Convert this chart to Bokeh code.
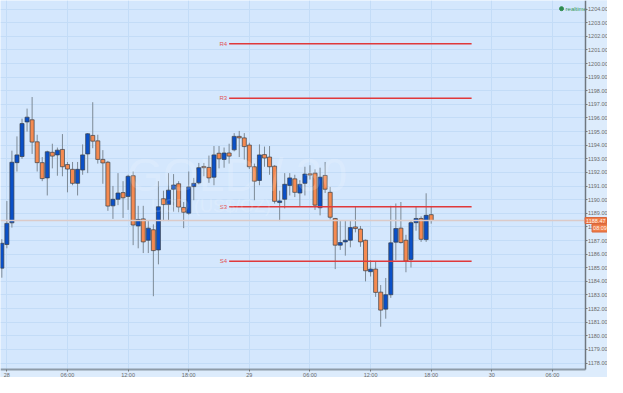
from bokeh.plotting import figure
from bokeh.models import (Range1d, FixedTicker, ColumnDataSource, Label, Span,
                          NumeralTickFormatter, BoxAnnotation)
from bokeh.embed import file_html
from bokeh.resources import INLINE
from bokeh.core.properties import value

# ---- data (30-minute candles, hours counted from the 28th 00:00) ----
opens = [1184.97, 1186.71, 1188.30, 1192.72, 1193.17, 1195.71, 1195.87, 1194.25, 1192.72, 1191.60,
         1193.48, 1193.29, 1193.69, 1192.58, 1192.23, 1191.20, 1192.18, 1193.36, 1194.72, 1194.32,
         1192.96, 1192.75, 1189.55, 1190.03, 1190.52, 1190.24, 1191.76, 1188.07, 1188.59, 1187.02,
         1187.79, 1186.31, 1190.07, 1189.64, 1190.77, 1191.17, 1189.43, 1189.01, 1190.96, 1191.24,
         1192.44, 1192.37, 1191.65, 1193.41, 1192.96, 1193.43, 1193.66, 1194.65, 1194.54, 1194.01,
         1192.42, 1191.41, 1193.31, 1193.13, 1192.46, 1189.79, 1190.03, 1191.05, 1191.53, 1190.49,
         1191.20, 1191.90, 1191.95, 1189.41, 1191.78, 1190.54, 1188.62, 1186.66, 1186.90, 1187.02,
         1188.00, 1187.84, 1187.02, 1184.71, 1184.90, 1183.21, 1181.96, 1183.02, 1186.88, 1187.91,
         1187.02, 1185.61, 1188.31, 1188.62, 1187.07, 1188.90]
highs = [1187.10, 1189.90, 1193.60, 1194.65, 1195.95, 1196.69, 1197.54, 1194.77, 1193.13, 1193.60,
         1194.11, 1193.83, 1194.82, 1192.77, 1192.77, 1192.77, 1194.06, 1194.89, 1197.16, 1194.77,
         1193.64, 1192.85, 1191.01, 1191.95, 1191.36, 1191.83, 1192.07, 1189.55, 1189.55, 1188.43,
         1188.19, 1191.36, 1190.66, 1191.95, 1191.88, 1191.36, 1189.83, 1192.07, 1191.60, 1192.70,
         1192.70, 1193.24, 1193.94, 1193.94, 1193.83, 1194.11, 1194.89, 1195.05, 1194.89, 1194.18,
         1192.65, 1194.06, 1193.90, 1193.94, 1192.53, 1190.66, 1191.95, 1191.95, 1191.83, 1191.43,
         1192.42, 1192.53, 1192.23, 1192.35, 1192.77, 1190.94, 1188.66, 1188.43, 1188.43, 1188.43,
         1189.53, 1188.07, 1187.07, 1185.54, 1185.49, 1183.73, 1184.25, 1189.55, 1189.72, 1189.83,
         1187.42, 1188.43, 1189.48, 1188.78, 1190.47, 1189.48]
lows = [1184.27, 1186.43, 1187.95, 1192.07, 1193.00, 1195.00, 1193.36, 1192.07, 1191.36, 1190.31,
        1192.30, 1191.76, 1191.72, 1190.54, 1191.06, 1190.31, 1191.83, 1191.95, 1193.78, 1192.65,
        1191.17, 1189.18, 1188.59, 1189.60, 1188.66, 1189.25, 1186.66, 1186.43, 1186.08, 1186.08,
        1182.91, 1185.25, 1188.43, 1188.43, 1189.13, 1189.08, 1187.91, 1188.90, 1189.96, 1191.13,
        1191.72, 1191.24, 1191.06, 1192.30, 1192.35, 1192.65, 1193.55, 1193.13, 1192.94, 1192.25,
        1189.96, 1191.06, 1192.42, 1191.83, 1189.72, 1188.43, 1189.36, 1190.31, 1190.19, 1189.48,
        1190.31, 1191.48, 1189.25, 1188.85, 1190.49, 1188.55, 1184.90, 1186.31, 1185.89, 1186.50,
        1187.60, 1186.54, 1184.00, 1184.36, 1182.86, 1180.67, 1181.26, 1182.79, 1185.56, 1186.78,
        1184.67, 1185.02, 1187.72, 1186.90, 1186.90, 1188.24]
closes = [1186.80, 1188.26, 1192.75, 1193.29, 1195.59, 1196.06, 1194.23, 1192.72, 1191.55, 1193.52,
          1193.20, 1193.64, 1192.42, 1192.25, 1191.20, 1192.23, 1193.29, 1194.84, 1194.30, 1192.96,
          1192.70, 1189.53, 1190.03, 1190.49, 1190.14, 1191.72, 1188.14, 1188.55, 1186.90, 1187.91,
          1186.26, 1189.48, 1189.64, 1190.70, 1191.08, 1189.46, 1189.08, 1190.94, 1191.20, 1192.35,
          1192.35, 1191.60, 1193.29, 1193.00, 1193.43, 1193.20, 1194.65, 1194.54, 1193.90, 1192.42,
          1191.36, 1193.29, 1193.06, 1192.42, 1189.88, 1189.91, 1191.13, 1191.60, 1190.54, 1191.13,
          1191.88, 1191.81, 1189.60, 1191.65, 1190.77, 1188.71, 1186.66, 1186.85, 1187.02, 1187.95,
          1187.88, 1186.90, 1184.78, 1184.90, 1183.19, 1181.89, 1183.02, 1186.83, 1187.88, 1186.85,
          1185.49, 1188.31, 1188.62, 1187.09, 1188.85, 1188.47]
first_hour = -0.5
candle_hours = 0.5

x_ticks = [0, 6, 12, 18, 24, 30, 36, 42, 48, 54]
x_tick_labels = ["28", "06:00", "12:00", "18:00", "29", "06:00", "12:00", "18:00", "30", "06:00"]
y_ticks = list(range(1178, 1205))

pivot_names = ["R4", "R3", "S3", "S4"]
pivot_levels = [1201.46, 1197.45, 1189.48, 1185.47]
pivot_start = 22
pivot_end = 46

last_price = 1188.47
countdown = "08:09"

# ---- build ----
n = len(opens)
t = [first_hour + candle_hours * i for i in range(n)]
up = [c >= o for o, c in zip(opens, closes)]
src = ColumnDataSource(dict(
    t=t, high=highs, low=lows,
    top=[max(o, c) for o, c in zip(opens, closes)],
    bottom=[min(o, c) for o, c in zip(opens, closes)],
    fill=["#0A50C8" if u else "#F58A50" for u in up],
))

FONT = "Liberation Sans"
BG = "#D4E7FD"
SIDE_BG = "#DDECFC"
X_START, X_END = -0.63, 59.45
Y_START, Y_END = 1176.94, 1204.63
X_AXIS_AT = 1177.5      # price level where the time axis sits
Y_AXIS_AT = 57.23       # hour where the price axis sits

p = figure(width=607, height=377, output_backend="svg", toolbar_location=None,
           x_range=Range1d(X_START, X_END), y_range=Range1d(Y_START, Y_END),
           y_axis_location="right", min_border_left=0, min_border_top=0,
           min_border_right=0, min_border_bottom=0)
p.background_fill_color = BG
p.border_fill_color = SIDE_BG
p.outline_line_color = None

# grids
p.xgrid.ticker = FixedTicker(ticks=x_ticks)
p.ygrid.ticker = FixedTicker(ticks=y_ticks)
p.grid.grid_line_color = "#C3DCF7"
p.grid.grid_line_width = 1

# label strips (right of the price axis, below the time axis)
p.add_layout(BoxAnnotation(left=Y_AXIS_AT, fill_color=SIDE_BG, fill_alpha=1,
                           line_alpha=0, level="underlay"))
p.add_layout(BoxAnnotation(top=X_AXIS_AT, fill_color=SIDE_BG, fill_alpha=1,
                           line_alpha=0, level="underlay"))

# axes
p.xaxis.ticker = FixedTicker(ticks=x_ticks)
p.xaxis.major_label_overrides = {tk: lb for tk, lb in zip(x_ticks, x_tick_labels)}
p.yaxis.ticker = FixedTicker(ticks=y_ticks)
p.yaxis.formatter = NumeralTickFormatter(format="0.00")
for ax in (p.xaxis[0], p.yaxis[0]):
    ax.major_label_text_font = FONT
    ax.major_label_text_font_size = "5.5px"
    ax.major_label_text_color = "#6A6A6A"
    ax.minor_tick_line_color = None
    ax.major_tick_in = 0
    ax.major_tick_out = 2
    ax.major_tick_line_color = "#777777"
    ax.major_label_standoff = 1
p.xaxis.fixed_location = X_AXIS_AT
p.yaxis.fixed_location = Y_AXIS_AT
p.xaxis.bounds = (X_START, Y_AXIS_AT)
p.yaxis.bounds = (X_AXIS_AT, Y_END)
p.xaxis.axis_line_color = "#8E9BA8"
p.xaxis.axis_line_width = 2
p.xaxis.major_label_standoff = 0
p.yaxis.axis_line_color = "#6F7780"
p.yaxis.axis_line_width = 1.5

# watermark
p.add_layout(Label(x=22.8, y=1191.8, text="GOLD / 30",
                   text_font=FONT, text_font_size="46px", text_color="white", text_alpha=0.18,
                   text_align="center", text_baseline="middle"))
p.add_layout(Label(x=20.7, y=1189.5, text="USD   (US$/OZ)",
                   text_font=FONT, text_font_size="18px", text_color="white", text_alpha=0.18,
                   text_align="center", text_baseline="middle"))

# current price line
p.add_layout(Span(location=last_price, dimension="width", line_color="#DCCAC8", line_width=1.5))

# candles
p.segment(x0="t", y0="high", x1="t", y1="low", source=src, line_color="#7D8A96", line_width=1)
p.vbar(x="t", width=0.4, top="top", bottom="bottom", source=src,
       fill_color="fill", line_color="#3A3F48", line_width=0.7)

# pivot lines
p.segment(x0=[pivot_start] * 4, y0=pivot_levels, x1=[pivot_end] * 4, y1=pivot_levels,
          line_color="#E0393B", line_width=1.5)
p.text(x=[pivot_start] * 4, y=pivot_levels, text=pivot_names, x_offset=-2,
       text_align="right", text_baseline="middle", text_font=value(FONT),
       text_font_size="6px", text_color="#E05555")

# price tag on the axis
p.add_layout(Label(x=Y_AXIS_AT, y=last_price, text="%.2f" % last_price, x_offset=0, level="overlay",
                   text_font=FONT, text_font_size="5.5px", text_color="#FFF4EC",
                   text_baseline="middle", background_fill_color="#F07E48",
                   border_line_color="#D8663A", padding=1))
p.add_layout(Label(x=Y_AXIS_AT, y=last_price, text=countdown, x_offset=7, y_offset=-7.5,
                   level="overlay",
                   text_font=FONT, text_font_size="5.5px", text_color="#FFF4EC",
                   text_baseline="middle", background_fill_color="#F07E48",
                   border_line_color="#D8663A", padding=1))

# realtime marker
p.scatter(x=[54.9], y=[1204.03], size=4, fill_color="#2E8B4E", line_color="#2E8B4E")
p.text(x=[55.3], y=[1204.03], text=["realtime"], text_font=value(FONT), text_font_size="6px",
       text_color="#3A9A5A", text_baseline="middle")

open("out.html", "w").write(file_html(p, INLINE))
